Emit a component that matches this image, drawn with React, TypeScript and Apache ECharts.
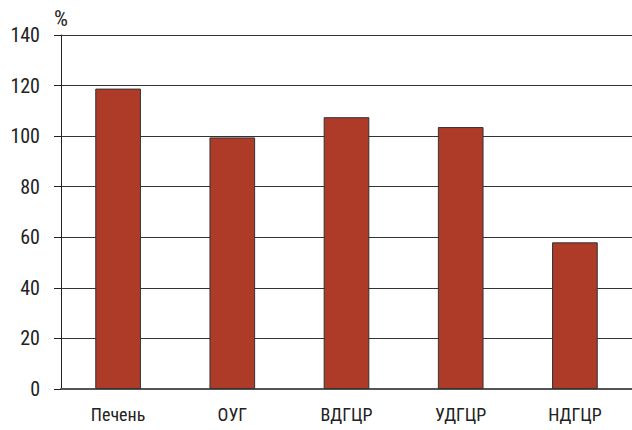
import React, { useEffect, useRef } from "react";
import * as echarts from "echarts";

const categories = ["Печень", "ОУГ", "ВДГЦР", "УДГЦР", "НДГЦР"];
const values = [118.8, 99.5, 107.5, 103.6, 58.0];
const yTicks = [0, 20, 40, 60, 80, 100, 120, 140];
const yName = "%";

export default function App() {
  const ref = useRef<HTMLDivElement>(null);
  useEffect(() => {
    if (!ref.current) return;
    const chart = echarts.init(ref.current, null, { renderer: "svg" });
    const font = "'Liberation Sans Narrow', 'Roboto Condensed', 'Liberation Sans', Arial, sans-serif";
    chart.setOption({
      animation: false,
      backgroundColor: "#ffffff",
      grid: { left: 61, right: 0, top: 35, bottom: 41, containLabel: false },
      xAxis: {
        type: "category",
        data: categories,
        axisLine: { show: true, lineStyle: { color: "#555", width: 2 } },
        axisTick: { show: false },
        axisLabel: { color: "#222", fontSize: 18, fontFamily: font, margin: 16 },
        splitLine: { show: false },
      },
      yAxis: {
        type: "value",
        min: yTicks[0],
        max: yTicks[yTicks.length - 1],
        interval: 20,
        name: yName,
        nameLocation: "end",
        nameGap: 6,
        nameTextStyle: { color: "#222", fontSize: 22, fontFamily: font, align: "right", padding: [0, -7, 0, 0] },
        axisLine: { show: true, lineStyle: { color: "#222", width: 1 } },
        axisTick: { show: true, length: 7, inside: false, lineStyle: { color: "#222", width: 1 } },
        axisLabel: { color: "#222", fontSize: 20, fontFamily: font, margin: 21 },
        splitLine: { show: true, lineStyle: { color: "#333", width: 1 } },
      },
      series: [
        {
          type: "bar",
          data: values,
          barWidth: "40%",
          itemStyle: { color: "#AE3A28", borderColor: "#333", borderWidth: 1 },
        },
      ],
    });
    return () => chart.dispose();
  }, []);
  return <div ref={ref} style={{ width: 632, height: 430, position: "absolute", left: 0, top: 0 }} />;
}
